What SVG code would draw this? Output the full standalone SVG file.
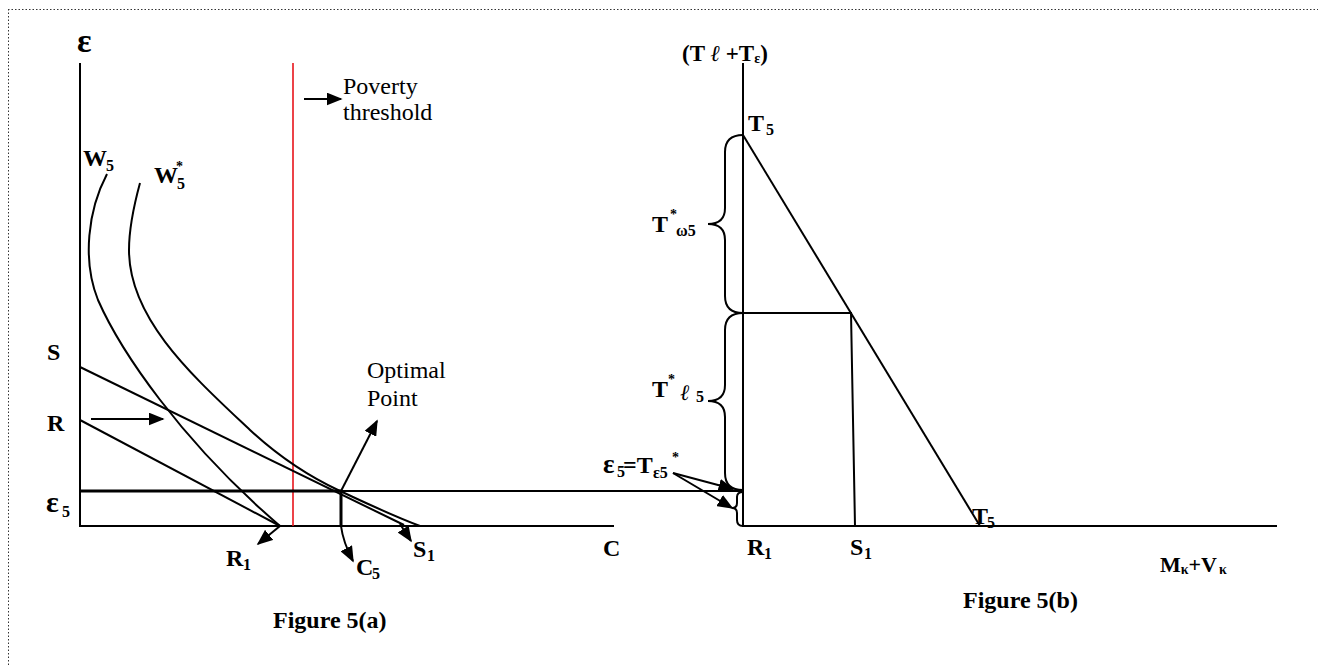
<svg xmlns="http://www.w3.org/2000/svg" width="1318" height="666" viewBox="0 0 1318 666">
<style>
.ln{fill:none;stroke:#000;stroke-width:2}
.thick{fill:none;stroke:#000;stroke-width:3}
.red{fill:none;stroke:#e8141b;stroke-width:1.6}
.b{font-family:"Liberation Serif","Times New Roman",serif;font-weight:bold;font-size:24px;fill:#000}
.r{font-family:"Liberation Serif","Times New Roman",serif;font-size:24px;fill:#000}
.sub{font-family:"Liberation Serif","Times New Roman",serif;font-weight:bold;font-size:16px;fill:#000}
.st{font-family:"Liberation Serif","Times New Roman",serif;font-weight:bold;font-size:14px;fill:#000}
.it{font-family:"Liberation Serif","Times New Roman",serif;font-style:italic;font-size:22px;fill:#000}
.arr{fill:none;stroke:#000;stroke-width:2;marker-end:url(#ah)}
</style>
<defs>
<marker id="ah" viewBox="0 0 10 10" refX="9" refY="5" markerWidth="16" markerHeight="13" markerUnits="userSpaceOnUse" orient="auto" preserveAspectRatio="none">
<path d="M0,0 L10,5 L0,10 z" fill="#000"/>
</marker>
</defs>
<rect width="1318" height="666" fill="#fff"/>
<g id="frame">
<path d="M8,9.5 H1318 M8.5,9 V666" fill="none" stroke="#333" stroke-width="1" stroke-dasharray="1.5,2"/>
</g>

<g id="figure-a">
<g id="axes-a">
<path class="ln" d="M80,63 V526 H614"/>
<path class="red" d="M293,63 V526"/>
</g>
<g id="curve-W5"><path class="ln" d="M107,174 C88,210 82,260 98,300 C120,350 180,440 280,526"/></g>
<g id="curve-W5star"><path class="ln" d="M140,183 C134,205 129,228 129,250 C129,320 195,378 250,430 C277,455 310,477 340,491 C366,503 393,516 420,526"/></g>
<g id="line-S"><path class="ln" d="M80,367 L404,525"/></g>
<g id="line-R"><path class="ln" d="M80,420 L280,526"/></g>
<g id="line-eps5">
<path class="thick" d="M80,491 H341"/>
<path class="ln" d="M341,491 H743"/>
<path class="thick" d="M341,491 V526"/>
</g>
<g id="labels-a">
<text class="b" x="77" y="52" style="font-size:34px">ε</text>
<text class="b" x="83" y="166">W</text><text class="sub" x="106" y="171">5</text>
<text class="b" x="154" y="183">W</text><text class="st" x="176" y="171">*</text><text class="sub" x="177" y="189">5</text>
<text class="b" x="47" y="360">S</text>
<text class="b" x="47" y="431">R</text>
<text class="b" x="46" y="512" style="font-size:30px">ε</text><text class="sub" x="62" y="517">5</text>
<text class="b" x="226" y="566">R</text><text class="sub" x="243" y="570">1</text>
<text class="b" x="356" y="575">C</text><text class="sub" x="372" y="579">5</text>
<text class="b" x="413" y="557">S</text><text class="sub" x="427" y="561">1</text>
<text class="b" x="603" y="556">C</text>
<text class="r" x="343" y="94">Poverty</text>
<text class="r" x="343" y="120">threshold</text>
<text class="r" x="367" y="378">Optimal</text>
<text class="r" x="367" y="406">Point</text>
<text class="b" x="273" y="628">Figure 5(a)</text>
</g>
</g>

<g id="figure-b">
<g id="axes-b"><path class="ln" d="M743,63 V526 H1277"/></g>
<g id="line-T5T5"><path class="ln" d="M743,135 L980,526"/></g>
<g id="box-S1"><path class="ln" d="M743,313 H851 L855,526"/></g>
<g id="brace-omega"><path class="ln" d="M743,135 Q725,135 725,152 V208 Q725,224 708,224 Q725,224 725,240 V296 Q725,313 743,313"/></g>
<g id="brace-ell"><path class="ln" d="M743,313 Q725,313 725,330 V385 Q725,401 708,401 Q725,401 725,417 V473 Q725,490 743,490"/></g>
<g id="brace-eps"><path class="ln" d="M743,492 Q737,492 737,497 V503 Q737,508 732,508 Q737,508 737,513 V520 Q737,526 743,526"/></g>
<g id="labels-b">
<text x="682" y="61" style="font-family:'Liberation Serif','Times New Roman',serif;font-size:23px;font-weight:bold">(T <tspan font-style="italic" font-weight="normal">ℓ</tspan> +T<tspan font-size="14" dy="2">ε</tspan><tspan dy="-2">)</tspan></text>
<text class="b" x="748" y="131">T</text><text class="sub" x="766" y="135">5</text>
<text class="b" x="652" y="232">T</text><text class="st" x="670" y="219">*</text><text class="sub" x="676" y="236">ω5</text>
<text class="b" x="652" y="397">T</text><text class="st" x="668" y="384">*</text><text class="it" x="680" y="400">ℓ</text><text class="sub" x="696" y="402">5</text>
<text class="b" x="603" y="473" style="font-size:27px">ε</text><text class="sub" x="617" y="477">5</text><text class="b" x="623" y="473">=T</text><text class="sub" x="653" y="478">ε5</text><text class="st" x="672" y="462">*</text>
<text class="b" x="747" y="555">R</text><text class="sub" x="764" y="559">1</text>
<text class="b" x="850" y="555">S</text><text class="sub" x="864" y="559">1</text>
<text class="b" x="972" y="524">T</text><text class="sub" x="987" y="528">5</text>
<text x="1160" y="572" style="font-family:'Liberation Serif','Times New Roman',serif;font-size:22px;font-weight:bold">M<tspan font-size="14" dy="2">κ</tspan><tspan dy="-2">+V</tspan><tspan font-size="14" dy="2" dx="2">κ</tspan></text>
<text class="b" x="963" y="608">Figure 5(b)</text>
</g>
</g>

<g id="connectors">
<path class="arr" d="M304,99 L341,99"/>
<path class="arr" d="M91,419 L163,419"/>
<path class="arr" d="M341,491 L377,421"/>
<path class="arr" d="M341,526 Q343,542 353,561"/>
<path class="arr" d="M280,526 L258,544"/>
<path class="arr" d="M400,524 L411,541"/>
<path class="arr" d="M673,473 L733,489"/>
<path class="arr" d="M673,473 L732,508"/>
</g>
</svg>
